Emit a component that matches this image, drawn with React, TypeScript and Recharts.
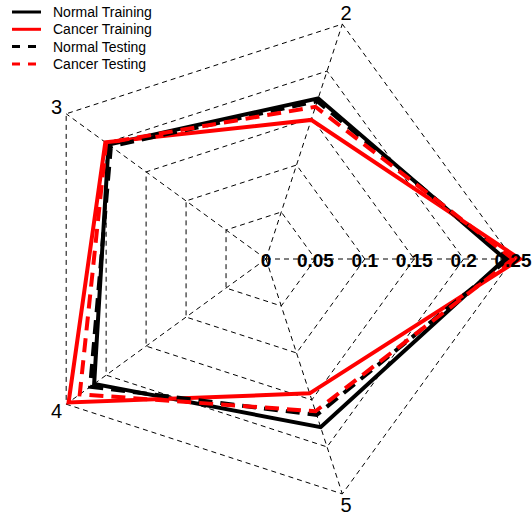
import { Legend, PolarAngleAxis, PolarGrid, PolarRadiusAxis, Radar, RadarChart } from "recharts";

const axisLabels = ["1", "2", "3", "4", "5"];
const normalTraining = [0.242, 0.171, 0.197, 0.215, 0.179];
const cancerTraining = [0.257, 0.148, 0.201, 0.247, 0.143];
const normalTesting = [0.245, 0.168, 0.194, 0.22, 0.166];
const cancerTesting = [0.25, 0.162, 0.2, 0.233, 0.162];
const radiusTicks = [0, 0.05, 0.1, 0.15, 0.2, 0.25];

// recharts goes clockwise, the reference goes counter-clockwise: walk the axes as 1,5,4,3,2
const drawOrder = [0, 4, 3, 2, 1];
const data = drawOrder.map((i) => ({
    name: axisLabels[i],
    normalTraining: normalTraining[i],
    cancerTraining: cancerTraining[i],
    normalTesting: normalTesting[i],
    cancerTesting: cancerTesting[i],
}));

const series = [
    { key: "normalTraining", label: "Normal Training", color: "#000000", dash: undefined },
    { key: "cancerTraining", label: "Cancer Training", color: "#ff0000", dash: undefined },
    { key: "normalTesting", label: "Normal Testing", color: "#000000", dash: "14 8" },
    { key: "cancerTesting", label: "Cancer Testing", color: "#ff0000", dash: "14 8" },
];

const font = "'Liberation Sans', Arial, Helvetica, sans-serif";

function LegendBox() {
    return (
        <svg width={160} height={80}>
            {series.map((s, i) => {
                const y = 12 + i * 17.3;
                return (
                    <g key={s.key}>
                        <line
                            x1={12}
                            x2={41}
                            y1={y}
                            y2={y}
                            stroke={s.color}
                            strokeWidth={3}
                            strokeDasharray={s.dash ? "8 8" : undefined}
                        />
                        <text x={53} y={y} dominantBaseline="central" fontSize={14} fontFamily={font} fill="#000">
                            {s.label}
                        </text>
                    </g>
                );
            })}
        </svg>
    );
}

function AngleTick(props: any) {
    const { x, y, payload } = props;
    // label "1" sits under the 0.25 tick label in the reference
    if (payload.value === "1") return null;
    return (
        <text x={x} y={y} textAnchor="middle" dominantBaseline="central" fontSize={20} fontFamily={font} fill="#000">
            {payload.value}
        </text>
    );
}

function RadiusTick(props: any) {
    const { x, y, payload } = props;
    return (
        <text
            x={x}
            y={y + 1}
            textAnchor="middle"
            dominantBaseline="central"
            fontSize={19}
            fontWeight="bold"
            fontFamily={font}
            fill="#000"
        >
            {String(payload.value)}
        </text>
    );
}

export default function App() {
    return (
        <div style={{ position: "absolute", left: 0, top: 0, width: 532, height: 516, background: "#fff" }}>
            <RadarChart
                width={532}
                height={516}
                data={data}
                cx={266}
                cy={259}
                outerRadius={247}
                startAngle={0}
                endAngle={-360}
                margin={{ top: 0, right: 0, bottom: 0, left: 0 }}
            >
                <PolarGrid gridType="polygon" stroke="#000" strokeWidth={1} strokeDasharray="5 4" />
                <PolarAngleAxis dataKey="name" tick={<AngleTick />} tickLine={false} axisLine={false} tickSize={12} />
                <PolarRadiusAxis
                    angle={0}
                    domain={[0, 0.25]}
                    ticks={radiusTicks as any}
                    tickCount={6}
                    allowDataOverflow
                    axisLine={false}
                    tickLine={false}
                    tick={<RadiusTick />}
                />
                {series.map((s) => (
                    <Radar
                        key={s.key}
                        name={s.label}
                        dataKey={s.key}
                        stroke={s.color}
                        strokeWidth={4}
                        strokeDasharray={s.dash}
                        fill="none"
                        fillOpacity={0}
                        dot={false}
                        isAnimationActive={false}
                    />
                ))}
                <Legend
                    layout="vertical"
                    verticalAlign="top"
                    align="left"
                    wrapperStyle={{ top: 0, left: 0, width: 160 }}
                    content={() => <LegendBox />}
                />
            </RadarChart>
        </div>
    );
}
